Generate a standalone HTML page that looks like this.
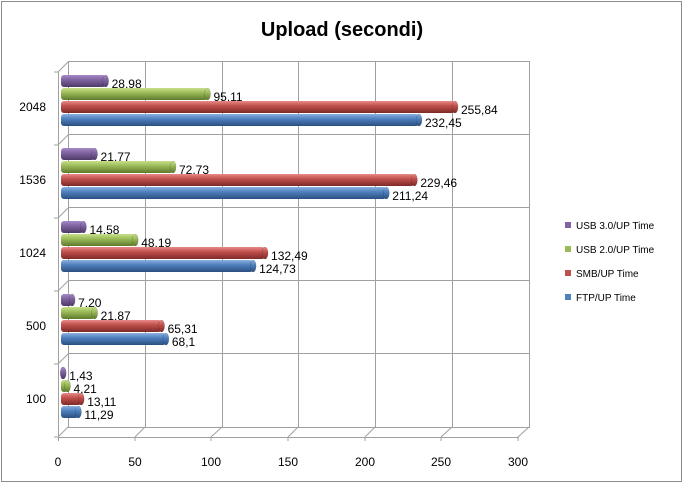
<!DOCTYPE html><html><head><style>body{margin:0;background:#fff}</style></head><body>
<svg width="684" height="484" xmlns="http://www.w3.org/2000/svg" font-family="Liberation Sans, sans-serif">
<defs>
<linearGradient id="p" x1="0" y1="0" x2="0" y2="1"><stop offset="0" stop-color="#a58ac8"/><stop offset=".4" stop-color="#8064a2"/><stop offset="1" stop-color="#4d3a66"/></linearGradient>
<linearGradient id="g" x1="0" y1="0" x2="0" y2="1"><stop offset="0" stop-color="#c8e08a"/><stop offset=".4" stop-color="#9bbb59"/><stop offset="1" stop-color="#5e7a2c"/></linearGradient>
<linearGradient id="r" x1="0" y1="0" x2="0" y2="1"><stop offset="0" stop-color="#e88a88"/><stop offset=".4" stop-color="#c0504d"/><stop offset="1" stop-color="#7e2a28"/></linearGradient>
<linearGradient id="b" x1="0" y1="0" x2="0" y2="1"><stop offset="0" stop-color="#8cb0e0"/><stop offset=".4" stop-color="#4f81bd"/><stop offset="1" stop-color="#2a4f80"/></linearGradient>
</defs>
<rect x="1.5" y="1.5" width="680" height="480" fill="#fff" stroke="#8c8c8c"/>
<text x="342" y="36" text-anchor="middle" font-size="20" font-weight="bold">Upload (secondi)</text>
<g stroke="#a0a0a0" fill="none">
<rect x="68.5" y="61.5" width="461" height="366"/>
<line x1="68" y1="134.5" x2="529" y2="134.5"/><line x1="68" y1="207.5" x2="529" y2="207.5"/><line x1="68" y1="280.5" x2="529" y2="280.5"/><line x1="68" y1="353.5" x2="529" y2="353.5"/>
<line x1="145.5" y1="61" x2="145.5" y2="427"/><line x1="222.5" y1="61" x2="222.5" y2="427"/><line x1="298.5" y1="61" x2="298.5" y2="427"/><line x1="375.5" y1="61" x2="375.5" y2="427"/><line x1="452.5" y1="61" x2="452.5" y2="427"/>
<line x1="58.5" y1="72" x2="58.5" y2="437"/><line x1="58" y1="437.5" x2="519" y2="437.5"/>
<line x1="58" y1="72" x2="68" y2="62"/><line x1="58" y1="145" x2="68" y2="135"/><line x1="58" y1="218" x2="68" y2="208"/><line x1="58" y1="291" x2="68" y2="281"/><line x1="58" y1="364" x2="68" y2="354"/><line x1="58" y1="437" x2="68" y2="427"/>
<line x1="135" y1="437" x2="145" y2="427"/><line x1="211" y1="437" x2="222" y2="427"/><line x1="288" y1="437" x2="298" y2="427"/><line x1="365" y1="437" x2="375" y2="427"/><line x1="441" y1="437" x2="452" y2="427"/><line x1="518" y1="437" x2="529" y2="427"/>
<line x1="54" y1="72" x2="58" y2="72"/><line x1="54" y1="145" x2="58" y2="145"/><line x1="54" y1="218" x2="58" y2="218"/><line x1="54" y1="291" x2="58" y2="291"/><line x1="54" y1="364" x2="58" y2="364"/><line x1="54" y1="437" x2="58" y2="437"/>
<line x1="58.5" y1="437" x2="58.5" y2="441"/><line x1="135" y1="437" x2="135" y2="441"/><line x1="211" y1="437" x2="211" y2="441"/><line x1="288" y1="437" x2="288" y2="441"/><line x1="365" y1="437" x2="365" y2="441"/><line x1="441" y1="437" x2="441" y2="441"/><line x1="518" y1="437" x2="518" y2="441"/>
</g>
<g font-size="12" text-anchor="middle">
<text x="58" y="466">0</text><text x="135" y="466">50</text><text x="211" y="466">100</text><text x="288" y="466">150</text><text x="365" y="466">200</text><text x="441" y="466">250</text><text x="518" y="466">300</text>
</g>
<g font-size="12" text-anchor="end">
<text x="46" y="111">2048</text><text x="46" y="184">1536</text><text x="46" y="257">1024</text><text x="46" y="330">500</text><text x="46" y="403">100</text>
</g>
<g id="bars" font-size="12"></g>
<g font-size="10">
<rect x="565" y="222" width="6" height="6" fill="#8064a2"/><text x="576" y="229">USB 3.0/UP Time</text>
<rect x="565" y="246" width="6" height="6" fill="#9bbb59"/><text x="576" y="253">USB 2.0/UP Time</text>
<rect x="565" y="270" width="6" height="6" fill="#c0504d"/><text x="576" y="277">SMB/UP Time</text>
<rect x="565" y="294" width="6" height="6" fill="#4f81bd"/><text x="576" y="301">FTP/UP Time</text>
</g>
</svg>
<script>
var d=[["28,98","95,11","255,84","232,45"],["21,77","72,73","229,46","211,24"],["14,58","48,19","132,49","124,73"],["7,20","21,87","65,31","68,1"],["1,43","4,21","13,11","11,29"]];
var f=["p","g","r","b"],s="";
d.forEach(function(row,i){row.forEach(function(v,j){var n=parseFloat(v.replace(",","."));var y=75+73*i+13*j;var w=Math.max(n*1.54,2);var x0=61;
s+='<rect x="'+x0+'" y="'+y+'" width="'+w+'" height="12" rx="3" fill="url(#'+f[j]+')"/>';
s+='<ellipse cx="'+(x0+w)+'" cy="'+(y+6)+'" rx="3" ry="6" fill="url(#'+f[j]+')" stroke="rgba(0,0,0,.25)" stroke-width=".5"/>';
s+='<text x="'+(x0+w+6)+'" y="'+(y+13)+'">'+v+'</text>';});});
document.getElementById("bars").innerHTML=s;
</script>
</body></html>
